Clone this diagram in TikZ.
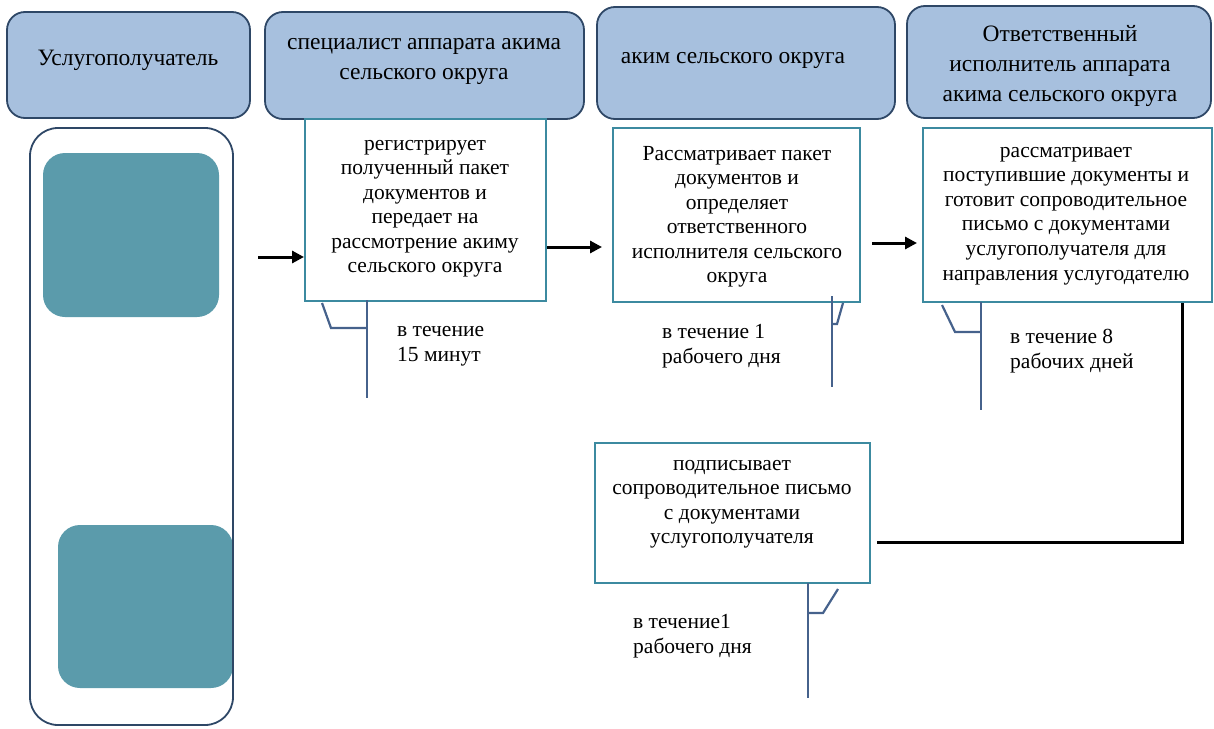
\documentclass[tikz,border=0pt]{standalone}
\usepackage{fontspec}
\setmainfont{Liberation Serif}
\usetikzlibrary{arrows.meta}
\definecolor{hdrfill}{HTML}{A7C0DE}
\definecolor{hdrline}{HTML}{2E4766}
\definecolor{tealfill}{HTML}{5B9BAB}
\definecolor{boxline}{HTML}{3C8AA0}
\definecolor{brkline}{HTML}{46628C}
\begin{document}
\begin{tikzpicture}[x=1pt,y=-1pt,
  header/.style={draw=hdrline, line width=1.8pt, fill=hdrfill, rounded corners=18pt, inner sep=0pt},
  hdrtext/.style={align=center, inner sep=0pt, font=\fontsize{23.5}{30}\selectfont},
  procbox/.style={draw=boxline, line width=2pt, fill=white, inner sep=0pt},
  bodytext/.style={align=center, inner sep=0pt, font=\fontsize{21.5}{24.5}\selectfont},
  notetext/.style={align=left, anchor=west, inner sep=0pt, font=\fontsize{21.5}{25}\selectfont},
  tealbox/.style={fill=tealfill, rounded corners=22pt, inner sep=0pt},
  flow/.style={line width=3pt, -{Triangle[length=12pt,width=12pt]}},
  bracket/.style={draw=brkline, line width=2.2pt},
]
\useasboundingbox (0,0) rectangle (1214,728);

% lane headers
\node[header, minimum width=243pt, minimum height=106pt] (h1) at (128.5,65) {};
\node[hdrtext] (h1t) at (128,60) {Услугополучатель};
\node[header, minimum width=319pt, minimum height=107pt] (h2) at (424.5,65.5) {};
\node[hdrtext] (h2t) at (424,61) {специалист аппарата акима\\сельского округа};
\node[header, minimum width=298pt, minimum height=112pt] (h3) at (746,63) {};
\node[hdrtext] (h3t) at (733,60) {аким сельского округа};
\node[header, minimum width=304pt, minimum height=112pt] (h4) at (1059,62) {};
\node[hdrtext] (h4t) at (1060,66) {Ответственный\\исполнитель аппарата\\акима сельского округа};

% service recipient lane
\node[tealbox, minimum width=176pt, minimum height=164pt] (t1) at (131,235) {};
\node[tealbox, minimum width=175pt, minimum height=163pt] (t2) at (145.5,606.5) {};
\node[draw=hdrline, line width=1.8pt, rounded corners=28pt, minimum width=203pt, minimum height=597pt, inner sep=0pt] (lane) at (131.5,426.5) {};

% process steps
\node[procbox, minimum width=241pt, minimum height=182pt] (b1) at (425.5,210) {};
\node[bodytext] (b1t) at (425,209) {регистрирует\\полученный пакет\\документов и\\передает на\\рассмотрение акиму\\сельского округа};
\node[procbox, minimum width=247pt, minimum height=174pt] (b2) at (736.5,215) {};
\node[bodytext] (b2t) at (737,217) {Рассматривает пакет\\документов и\\определяет\\ответственного\\исполнителя сельского\\округа};
\node[procbox, minimum width=289pt, minimum height=174pt] (b3) at (1067.5,215) {};
\node[bodytext] (b3t) at (1066,216) {рассматривает\\поступившие документы и\\готовит сопроводительное\\письмо с документами\\услугополучателя для\\направления услугодателю};
\node[procbox, minimum width=275pt, minimum height=140pt] (b4) at (732.5,513) {};
\node[bodytext] (b4t) at (732,504) {подписывает\\сопроводительное письмо\\с документами\\услугополучателя};

% flow arrows
\coordinate (in1) at (258,257);
\draw[flow] (in1) -- (b1.west |- in1);
\draw[flow, shorten >=10pt] (b1.east |- 0,247) -- (b2.west |- 0,247);
\draw[flow, shorten <=11pt, shorten >=5pt] (b2.east |- 0,243) -- (b3.west |- 0,243);
\draw[line width=3pt, shorten >=6pt] (b3.south -| 1182,0) |- (b4.east |- 0,542);

% time brackets
\draw[bracket] (367,300) -- (367,398);
\draw[bracket] (322,303) -- (331,328) -- (367,328);
\node[notetext] (n1) at (397,346) {в течение\\15 минут};

\draw[bracket] (832,296) -- (832,387);
\draw[bracket] (843,303) -- (837,324) -- (832,324);
\node[notetext] (n2) at (662,346) {в течение 1\\рабочего дня};

\draw[bracket] (981,302) -- (981,410);
\draw[bracket] (942,305) -- (955,332) -- (981,332);
\node[notetext] (n3) at (1010,351) {в течение 8\\рабочих дней};

\draw[bracket] (808,583) -- (808,698);
\draw[bracket] (838,589) -- (823,613) -- (808,613);
\node[notetext] (n4) at (633,636) {в течение1\\рабочего дня};
\end{tikzpicture}
\end{document}
